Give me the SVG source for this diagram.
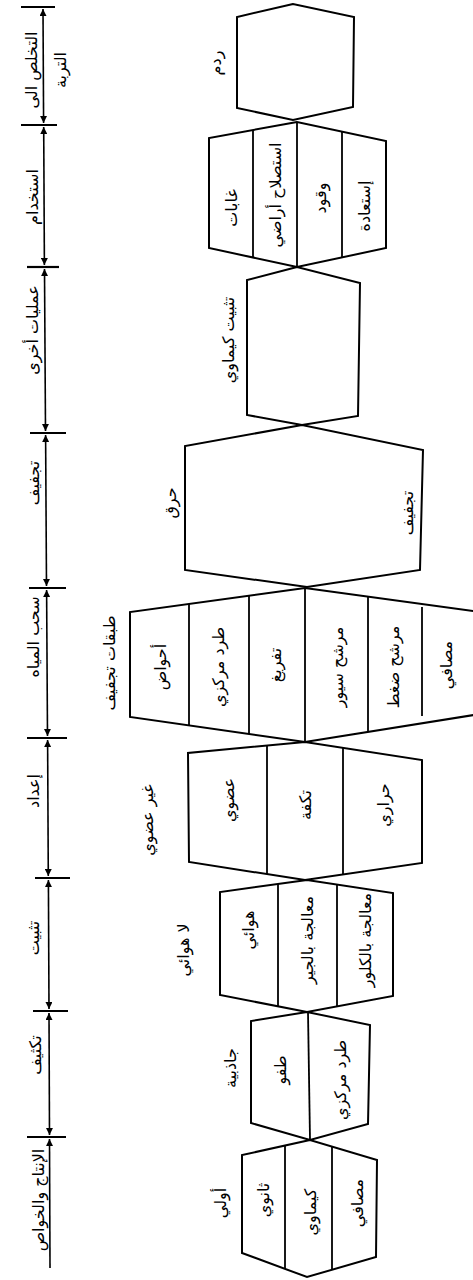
<svg xmlns="http://www.w3.org/2000/svg" width="473" height="1280" viewBox="0 0 473 1280">
<style>
.bg{fill:#fff}
.n{fill:none;stroke:#000;stroke-width:2;stroke-linejoin:miter}
.d{stroke:#000;stroke-width:1.8}
.ax{stroke:#000;stroke-width:1.6;fill:none}
.tk{stroke:#000;stroke-width:2.2}
text{font-family:"DejaVu Sans",sans-serif;font-size:16px;fill:#000;text-anchor:middle;direction:rtl}
</style>
<defs>
<marker id="ah" viewBox="0 0 10 10" refX="10" refY="5" markerWidth="7" markerHeight="7" markerUnits="userSpaceOnUse" orient="auto-start-reverse">
<path d="M0,0 L10,5 L0,10 z" fill="#000"/>
</marker>
</defs>
<rect class="bg" x="0" y="0" width="473" height="1280"/>

<g id="connectors">
<line class="ax" x1="43" y1="9" x2="43.6" y2="123" marker-start="url(#ah)" marker-end="url(#ah)"/>
<line class="ax" x1="43.7" y1="127" x2="44.4" y2="265" marker-start="url(#ah)" marker-end="url(#ah)"/>
<line class="ax" x1="44.5" y1="269" x2="45.5" y2="431" marker-start="url(#ah)" marker-end="url(#ah)"/>
<line class="ax" x1="45.6" y1="435" x2="46.5" y2="586" marker-start="url(#ah)" marker-end="url(#ah)"/>
<line class="ax" x1="46.6" y1="590" x2="47.5" y2="736" marker-start="url(#ah)" marker-end="url(#ah)"/>
<line class="ax" x1="47.6" y1="740" x2="48.3" y2="876" marker-start="url(#ah)" marker-end="url(#ah)"/>
<line class="ax" x1="48.4" y1="880" x2="49" y2="1009" marker-start="url(#ah)" marker-end="url(#ah)"/>
<line class="ax" x1="49" y1="1013" x2="49.5" y2="1135" marker-start="url(#ah)" marker-end="url(#ah)"/>
<line class="ax" x1="49.5" y1="1139" x2="50" y2="1268" marker-start="url(#ah)"/>
<line class="tk" x1="21" y1="7" x2="55" y2="7"/>
<line class="tk" x1="21" y1="125" x2="57" y2="125"/>
<line class="tk" x1="27" y1="267" x2="59" y2="267"/>
<line class="tk" x1="30" y1="433" x2="66" y2="433"/>
<line class="tk" x1="29" y1="588" x2="66" y2="588"/>
<line class="tk" x1="27" y1="738" x2="67" y2="738"/>
<line class="tk" x1="35" y1="878" x2="70" y2="878"/>
<line class="tk" x1="33" y1="1011" x2="68" y2="1011"/>
<line class="tk" x1="27" y1="1137" x2="66" y2="1137"/>
</g>

<g id="axis-labels">
<text transform="translate(31,70) rotate(-90)" dy="0.35em">التخلص الى</text>
<text transform="translate(60,70) rotate(-90)" dy="0.35em">التربة</text>
<text transform="translate(32,197) rotate(-90)" dy="0.35em">استخدام</text>
<text transform="translate(32,330) rotate(-90)" dy="0.35em">عمليات أخرى</text>
<text transform="translate(33,483) rotate(-90)" dy="0.35em">تجفيف</text>
<text transform="translate(33,637) rotate(-90)" dy="0.35em">سحب المياه</text>
<text transform="translate(33,791) rotate(-90)" dy="0.35em">إعداد</text>
<text transform="translate(33,938) rotate(-90)" dy="0.35em">تثبيت</text>
<text transform="translate(35,1055) rotate(-90)" dy="0.35em">تكثيف</text>
<text transform="translate(38,1200) rotate(-90)" dy="0.35em">الإنتاج والخواص</text>
</g>

<g id="node-landfill">
<polygon class="n" points="293,4 237,17 237,108 293,120 353,107 354,17"/>
<text transform="translate(215,63) rotate(-90)" dy="0.35em">ردم</text>
</g>

<g id="node-use">
<polygon class="n" points="297,122 209,138 209,248 297,267 386,248 386,141"/>
<line class="d" x1="253" y1="130" x2="253" y2="257.5"/>
<line class="d" x1="297" y1="122" x2="297" y2="267"/>
<line class="d" x1="342" y1="131.6" x2="342" y2="257.4"/>
<text transform="translate(231,208) rotate(-90)" dy="0.35em">غابات</text>
<text transform="translate(275,195) rotate(-90)" dy="0.35em">استصلاح أراضي</text>
<text transform="translate(320,198) rotate(-90)" dy="0.35em">وقود</text>
<text transform="translate(364,206) rotate(-90)" dy="0.35em">إستعادة</text>
</g>

<g id="node-chemfix">
<polygon class="n" points="297,267 247,280 247,415 302,425 358,416 360,283"/>
<text transform="translate(228,340) rotate(-90)" dy="0.35em">تثبيت كيماوي</text>
</g>

<g id="node-burn">
<polygon class="n" points="302,425 185,446 185,570 307,587 420,570 423,450"/>
<text transform="translate(170,503) rotate(-90)" dy="0.35em">حرق</text>
<text transform="translate(407,513) rotate(-90)" dy="0.35em">تجفيف</text>
</g>

<g id="node-dewater">
<polyline class="n" points="480,612 305,588 130,612 130,717 305,742 480,714"/>
<line class="d" x1="189" y1="603.9" x2="189" y2="725.4"/>
<line class="d" x1="249" y1="595.7" x2="249" y2="734"/>
<line class="d" x1="305" y1="588" x2="305" y2="742"/>
<line class="d" x1="368" y1="596.6" x2="368" y2="732"/>
<line class="d" x1="422" y1="607" x2="422" y2="716"/>
<text transform="translate(109,663) rotate(-90)" dy="0.35em">طبقات تجفيف</text>
<text transform="translate(160,667) rotate(-90)" dy="0.35em">أحواض</text>
<text transform="translate(218,667) rotate(-90)" dy="0.35em">طرد مركزي</text>
<text transform="translate(275,665) rotate(-90)" dy="0.35em">تفريغ</text>
<text transform="translate(337,667) rotate(-90)" dy="0.35em">مرشح سيور</text>
<text transform="translate(393,667) rotate(-90)" dy="0.35em">مرشح ضغط</text>
<text transform="translate(446,665) rotate(-90)" dy="0.35em">مصافي</text>
</g>

<g id="node-inorganic">
<polygon class="n" points="305,742 188,753 189,862 305,880 422,863 422,760"/>
<line class="d" x1="267" y1="745.6" x2="267" y2="874.1"/>
<line class="d" x1="343" y1="747.8" x2="343" y2="874.5"/>
<text transform="translate(147,820) rotate(-90)" dy="0.35em">غير عضوي</text>
<text transform="translate(228,800) rotate(-90)" dy="0.35em">عضوي</text>
<text transform="translate(305,805) rotate(-90)" dy="0.35em">تكفة</text>
<text transform="translate(383,805) rotate(-90)" dy="0.35em">حراري</text>
</g>

<g id="node-anaerobic">
<polygon class="n" points="307,880 220,892 220,995 307,1012 393,996 393,893"/>
<line class="d" x1="278" y1="884" x2="278" y2="1006.3"/>
<line class="d" x1="337" y1="884.5" x2="337" y2="1006.4"/>
<text transform="translate(183,950) rotate(-90)" dy="0.35em">لا هوائي</text>
<text transform="translate(248,930) rotate(-90)" dy="0.35em">هوائي</text>
<text transform="translate(307,940) rotate(-90)" dy="0.35em">معالجة بالجير</text>
<text transform="translate(365,940) rotate(-90)" dy="0.35em">معالجة بالكلور</text>
</g>

<g id="node-gravity">
<polygon class="n" points="307,1012 251,1021 251,1123 310,1140 368,1124 370,1025"/>
<line class="d" x1="308" y1="1012" x2="310" y2="1140"/>
<text transform="translate(230,1068) rotate(-90)" dy="0.35em">جاذبية</text>
<text transform="translate(280,1070) rotate(-90)" dy="0.35em">طفو</text>
<text transform="translate(340,1080) rotate(-90)" dy="0.35em">طرد مركزي</text>
</g>

<g id="node-primary">
<polygon class="n" points="310,1140 242,1155 242,1253 307,1277 376,1257 377,1160"/>
<line class="d" x1="285" y1="1145.5" x2="285" y2="1268.9"/>
<line class="d" x1="332" y1="1146.6" x2="332" y2="1269.8"/>
<text transform="translate(220,1203) rotate(-90)" dy="0.35em">أولي</text>
<text transform="translate(263,1200) rotate(-90)" dy="0.35em">ثانوي</text>
<text transform="translate(310,1212) rotate(-90)" dy="0.35em">كيماوي</text>
<text transform="translate(357,1203) rotate(-90)" dy="0.35em">مصافي</text>
</g>
</svg>
